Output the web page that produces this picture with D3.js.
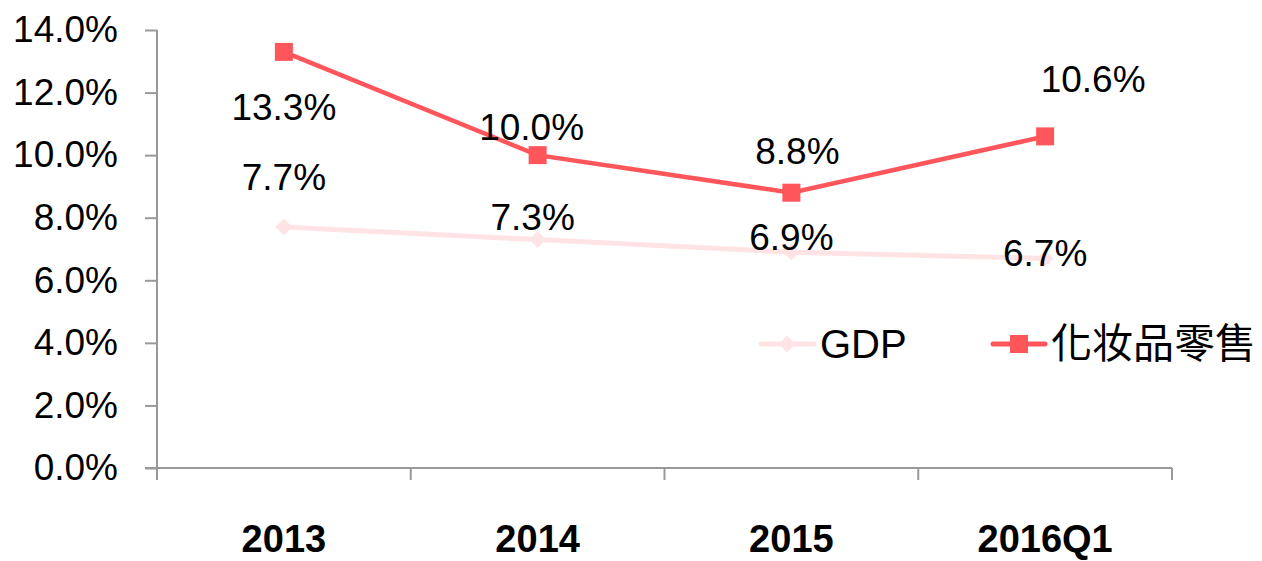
<!doctype html>
<html>
<head>
<meta charset="utf-8">
<script src="https://cdnjs.cloudflare.com/ajax/libs/d3/7.8.5/d3.min.js"></script>
<style>
  body { margin: 0; background: #fff; }
  svg { display: block; font-family: "Liberation Sans", Arial, sans-serif; }
</style>
</head>
<body>
<svg id="chart" width="1262" height="561"></svg>
<script>
// chart data
var categories = ["2013", "2014", "2015", "2016Q1"];
var gdp = [7.7, 7.3, 6.9, 6.7];
var retail = [13.3, 10.0, 8.8, 10.6];
var yTicks = [0, 2, 4, 6, 8, 10, 12, 14];
var seriesNames = ["GDP", "化妆品零售"];

// label nudges (px) to sit where the original put them
var gdpLabelOff = [[0, -37], [-5, -10], [0, -2], [0, 8]];
var retailLabelOff = [[0, 68], [-6, -15], [6, -29], [48, -44]];

var svg = d3.select("#chart");
var plotL = 157, plotR = 1172, plotT = 30, plotB = 468;

var x = d3.scaleBand().domain(categories).range([plotL, plotR]);
var y = d3.scaleLinear().domain([0, 14]).range([plotB, plotT]);

var axisColor = "#999";
var gdpColor = "#ffe3e5";
var retailColor = "#ff565c";

// y axis
var yAxis = svg.append("g").attr("transform", "translate(" + plotL + ",0)")
    .call(d3.axisLeft(y).tickValues(yTicks).tickSize(12).tickPadding(27)
        .tickFormat(function(d) { return d.toFixed(1) + "%"; }));
yAxis.select(".domain").attr("stroke", axisColor).attr("stroke-width", 2)
    .attr("d", "M0," + plotT + "V" + plotB);
yAxis.selectAll(".tick line").attr("stroke", axisColor).attr("stroke-width", 2);
yAxis.selectAll(".tick text").attr("font-size", 37).attr("fill", "#000")
    .attr("font-family", "Liberation Sans, Arial, sans-serif");

// x axis
var xAxis = svg.append("g").attr("transform", "translate(0," + plotB + ")")
    .call(d3.axisBottom(x).tickSize(0).tickPadding(57));
xAxis.select(".domain").attr("stroke", axisColor).attr("stroke-width", 2)
    .attr("d", "M" + (plotL - 12) + ",0H" + plotR);
xAxis.selectAll(".tick text").attr("font-size", 38).attr("font-weight", "bold")
    .attr("fill", "#000").attr("font-family", "Liberation Sans, Arial, sans-serif");
// band boundary ticks
var bounds = categories.map(function(c) { return x(c); }).concat([plotR]);
xAxis.selectAll(".bnd").data(bounds).enter().append("line")
    .attr("x1", function(d) { return d; }).attr("x2", function(d) { return d; })
    .attr("y1", 0).attr("y2", 12).attr("stroke", axisColor).attr("stroke-width", 2);

function cx(i) { return x(categories[i]) + x.bandwidth() / 2; }

var line = d3.line().x(function(d, i) { return cx(i); }).y(function(d) { return y(d); });

// GDP line
svg.append("path").datum(gdp).attr("d", line).attr("fill", "none")
    .attr("stroke", gdpColor).attr("stroke-width", 5).attr("stroke-linecap", "round");
svg.selectAll(".gdpPt").data(gdp).enter().append("rect")
    .attr("width", 12).attr("height", 12).attr("x", -6).attr("y", -6)
    .attr("fill", gdpColor)
    .attr("transform", function(d, i) { return "translate(" + cx(i) + "," + y(d) + ") rotate(45)"; });

// retail line
svg.append("path").datum(retail).attr("d", line).attr("fill", "none")
    .attr("stroke", retailColor).attr("stroke-width", 4.5).attr("stroke-linecap", "round");
svg.selectAll(".rtPt").data(retail).enter().append("rect")
    .attr("x", function(d, i) { return cx(i) - 9; }).attr("y", function(d) { return y(d) - 9; })
    .attr("width", 18).attr("height", 18).attr("fill", retailColor);

// data labels
function addLabels(vals, offs) {
  svg.selectAll(null).data(vals).enter().append("text")
    .attr("x", function(d, i) { return cx(i) + offs[i][0]; })
    .attr("y", function(d, i) { return y(d) + offs[i][1]; })
    .attr("text-anchor", "middle").attr("font-size", 37).attr("fill", "#000")
    .text(function(d) { return d.toFixed(1) + "%"; });
}
addLabels(gdp, gdpLabelOff);
addLabels(retail, retailLabelOff);

// legend
var lg = svg.append("g").attr("transform", "translate(0,344)");
lg.append("line").attr("x1", 761).attr("x2", 814).attr("stroke", gdpColor)
    .attr("stroke-width", 5).attr("stroke-linecap", "round");
lg.append("rect").attr("width", 12).attr("height", 12).attr("x", -6).attr("y", -6)
    .attr("fill", gdpColor).attr("transform", "translate(787,0) rotate(45)");
lg.append("text").attr("x", 820).attr("y", 14).attr("font-size", 40).text(seriesNames[0]);

lg.append("line").attr("x1", 993).attr("x2", 1045).attr("stroke", retailColor)
    .attr("stroke-width", 5).attr("stroke-linecap", "round");
lg.append("rect").attr("x", 1010).attr("y", -9).attr("width", 18).attr("height", 18)
    .attr("fill", retailColor);
lg.append("text").attr("x", 1051).attr("y", 14).attr("font-size", 41)
    .attr("font-family", "Noto Sans CJK TC, Noto Sans CJK SC, sans-serif").text(seriesNames[1]);
</script>
</body>
</html>
